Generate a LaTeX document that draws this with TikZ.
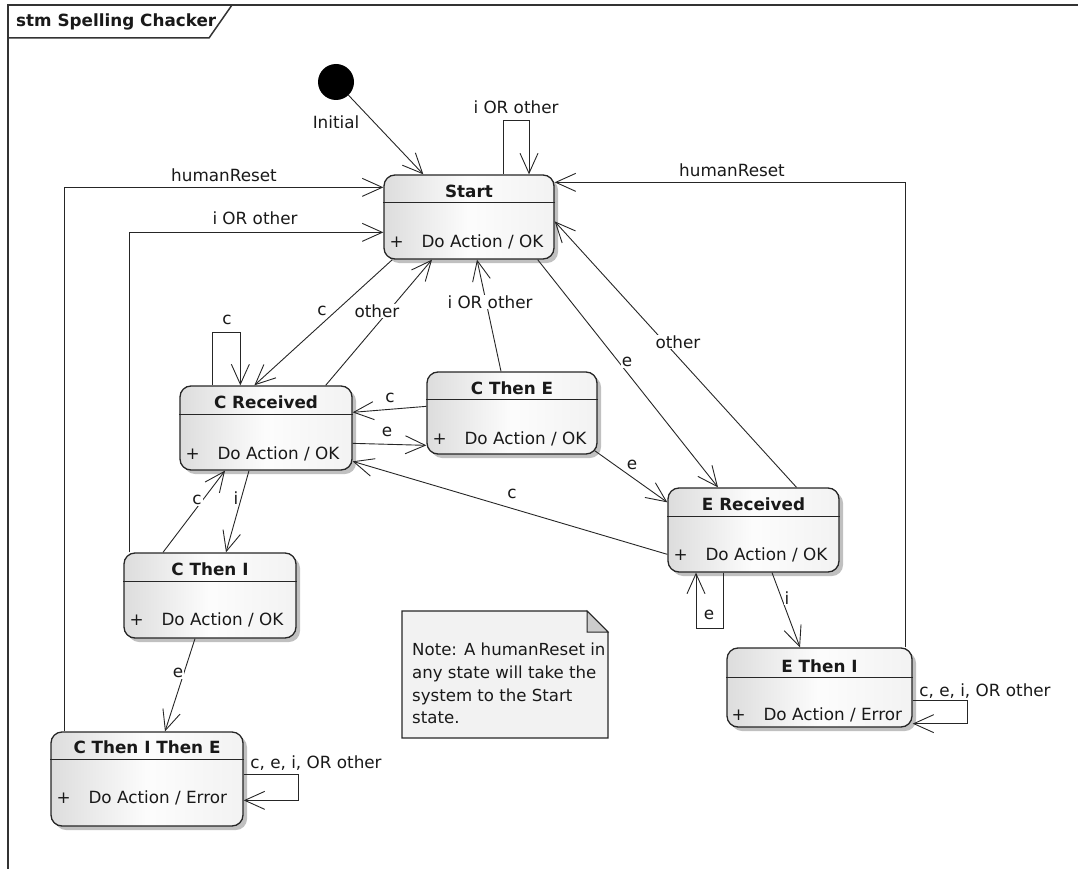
\documentclass[tikz,border=0pt]{standalone}
\usepackage{fontspec}
\setmainfont{DejaVu Sans}
\usetikzlibrary{arrows.meta,shadows}

\newcommand\lblfont{\fontsize{16.8pt}{20pt}\selectfont}
\newcommand\notefont{\fontsize{16.6pt}{22.7pt}\selectfont}
\newcommand\actiontext[1]{\makebox[32pt][l]{+}#1}

\begin{document}
\begin{tikzpicture}[x=1pt,y=1pt,
  every node/.style={font=\lblfont, text=black!90},
  state/.style={draw=black!85, line width=1.3pt, rounded corners=11pt, inner sep=0pt,
    left color=gray!27, right color=gray!10, middle color=gray!2,
    drop shadow={shadow xshift=4pt, shadow yshift=-4pt, fill=gray!55, opacity=0.9}},
  divider/.style={draw=black!85, line width=1.3pt},
  stitle/.style={font=\lblfont\bfseries, inner sep=0pt},
  sbody/.style={anchor=west, inner sep=0pt, text depth=0pt},
  lbl/.style={inner sep=1pt, fill=white, text depth=0pt},
  arr/.style={draw=black!85, line width=0.9pt, -{Straight Barb[length=20pt,width=18pt]}},
  frame/.style={draw=black!80, line width=1.5pt}
]
\useasboundingbox (0,0) rectangle (1078,-869);

% diagram frame and its name tab
\draw[frame] (8,-869) -- (8,-5) -- (1078,-5);
\draw[frame] (8,-38) -- (209,-38) -- (232,-5);
\node[font=\lblfont\bfseries, anchor=west, inner sep=0pt] (frametitle) at (16,-22) {stm Spelling Chacker};

% initial pseudo-state
\node[circle, fill=black, minimum size=36pt, inner sep=0pt] (init) at (336,-82) {};
\node[inner sep=0pt] (initlbl) at ([yshift=-40pt]init.center) {Initial};

% states
\node[state, minimum width=170pt, minimum height=84pt] (start) at (469,-217) {};
\node[state, minimum width=172pt, minimum height=84pt] (crec) at (266,-428) {};
\node[state, minimum width=170pt, minimum height=82pt] (cte) at (512,-413) {};
\node[state, minimum width=171pt, minimum height=84pt] (erec) at (753.5,-530) {};
\node[state, minimum width=172pt, minimum height=85pt] (cti) at (210,-595.5) {};
\node[state, minimum width=185pt, minimum height=79pt] (eti) at (819.5,-687.5) {};
\node[state, minimum width=192pt, minimum height=94pt] (ctite) at (147,-779) {};

% compartment dividers
\draw[divider] ([yshift=-28pt]start.north west) -- ([yshift=-28pt]start.north east);
\draw[divider] ([yshift=-29pt]crec.north west) -- ([yshift=-29pt]crec.north east);
\draw[divider] ([yshift=-28pt]cte.north west) -- ([yshift=-28pt]cte.north east);
\draw[divider] ([yshift=-29pt]erec.north west) -- ([yshift=-29pt]erec.north east);
\draw[divider] ([yshift=-29pt]cti.north west) -- ([yshift=-29pt]cti.north east);
\draw[divider] ([yshift=-30pt]eti.north west) -- ([yshift=-30pt]eti.north east);
\draw[divider] ([yshift=-28pt]ctite.north west) -- ([yshift=-28pt]ctite.north east);

% state names
\node[stitle] (startT) at ([yshift=-17pt]start.north) {Start};
\node[stitle] (crecT) at ([yshift=-17pt]crec.north) {C Received};
\node[stitle] (cteT) at ([yshift=-17pt]cte.north) {C Then E};
\node[stitle] (erecT) at ([yshift=-17pt]erec.north) {E Received};
\node[stitle] (ctiT) at ([yshift=-17pt]cti.north) {C Then I};
\node[stitle] (etiT) at ([yshift=-19pt]eti.north) {E Then I};
\node[stitle] (ctiteT) at ([yshift=-16pt]ctite.north) {C Then I Then E};

% state actions
\node[sbody] (startB) at ([xshift=6pt,yshift=19pt]start.south west) {\actiontext{Do Action / OK}};
\node[sbody] (crecB) at ([xshift=6pt,yshift=18pt]crec.south west) {\actiontext{Do Action / OK}};
\node[sbody] (cteB) at ([xshift=6pt,yshift=17pt]cte.south west) {\actiontext{Do Action / OK}};
\node[sbody] (erecB) at ([xshift=6pt,yshift=19pt]erec.south west) {\actiontext{Do Action / OK}};
\node[sbody] (ctiB) at ([xshift=6pt,yshift=20pt]cti.south west) {\actiontext{Do Action / OK}};
\node[sbody] (etiB) at ([xshift=5pt,yshift=14pt]eti.south west) {\actiontext{Do Action / Error}};
\node[sbody] (ctiteB) at ([xshift=6pt,yshift=30pt]ctite.south west) {\actiontext{Do Action / Error}};

% note
\coordinate (noteNW) at (402,-611);
\draw[draw=black!85, line width=1.3pt, fill=gray!10]
  (noteNW) -- ++(185,0) -- ++(21,-21) -- ++(0,-106) -- ++(-206,0) -- cycle;
\filldraw[fill=gray!40, draw=black!85, line width=1pt]
  ([xshift=185pt]noteNW) -- ++(0,-21) -- ++(21,0) -- cycle;
\node[anchor=north west, align=left, inner sep=0pt, font=\notefont] (note)
  at ([xshift=10pt,yshift=-32pt]noteNW)
  {Note: A humanReset in\\any state will take the\\system to the Start\\state.};

% transitions
\draw[arr] (init) -- ([xshift=40pt]start.north west);
\draw[arr] ([xshift=34pt]start.north) -- ++(0,54) -| ([xshift=60pt]start.north);
\draw[arr] ([xshift=14pt]ctite.north west) |- ([yshift=-13pt]start.north west);
\draw[arr] ([xshift=6pt]cti.north west) |- ([yshift=-58pt]start.north west);
\draw[arr] ([xshift=-7pt]eti.north east) |- ([yshift=-8pt]start.north east);
\draw[arr] ([xshift=9pt]start.south west) -- ([xshift=75pt]crec.north west);
\draw[arr] ([xshift=-27pt]crec.north east) -- ([xshift=-37pt]start.south);
\draw[arr] ([xshift=33pt]crec.north west) -- ++(0,53) -| ([xshift=61pt]crec.north west);
\draw[arr] ([xshift=-11pt]cte.north) -- ([xshift=8pt]start.south);
\draw[arr] ([xshift=-17pt]start.south east) -- ([xshift=-35.5pt]erec.north);
\draw[arr] ([xshift=43pt]erec.north) -- ([yshift=-47pt]start.north east);
\draw[arr] ([yshift=-35pt]cte.north west) -- ([yshift=-27pt]crec.north east);
\draw[arr] ([yshift=-58pt]crec.north east) -- ([yshift=-74pt]cte.north west);
\draw[arr] ([xshift=-3pt,yshift=4pt]cte.south east) -- ([yshift=-15pt]erec.north west);
\draw[arr] ([yshift=-67pt]erec.north west) -- ([yshift=-76pt]crec.north east);
\draw[arr] ([xshift=-30.5pt]erec.south) -- ++(0,-56) -| ([xshift=-57.5pt]erec.south);
\draw[arr] ([xshift=18.5pt]erec.south) -- ([xshift=-19.5pt]eti.north);
\draw[arr] ([yshift=-53pt]eti.north east) -- ++(55,0) |- ([yshift=4pt]eti.south east);
\draw[arr] ([xshift=-17pt]crec.south) -- ([xshift=16pt]cti.north);
\draw[arr] ([xshift=-47pt]cti.north) -- ([xshift=-41pt]crec.south);
\draw[arr] ([xshift=-15pt]cti.south) -- ([xshift=18pt]ctite.north);
\draw[arr] ([yshift=-43pt]ctite.north east) -- ++(55,0) |- ([yshift=-69pt]ctite.north east);

% transition labels
\node[lbl] (l1) at (516,-107) {i OR other};
\node[lbl] (l2) at (224,-175) {humanReset};
\node[lbl] (l3) at (255,-218) {i OR other};
\node[lbl] (l4) at (732,-170) {humanReset};
\node[lbl] (l5) at (322,-311) {c};
\node[lbl] (l6) at (377,-311) {other};
\node[lbl] (l7) at (227,-320) {c};
\node[lbl] (l8) at (490,-302) {i OR other};
\node[lbl] (l9) at (627,-362) {e};
\node[lbl] (l10) at (678,-342) {other};
\node[lbl] (l11) at (390,-398) {c};
\node[lbl] (l12) at (387,-432) {e};
\node[lbl] (l13) at (632,-465) {e};
\node[lbl] (l14) at (512,-494) {c};
\node[lbl] (l15) at (709,-615) {e};
\node[lbl] (l16) at (787,-598) {i};
\node[lbl] (l17) at (985,-690) {c, e, i, OR other};
\node[lbl] (l18) at (236,-498) {i};
\node[lbl] (l19) at (197,-500) {c};
\node[lbl] (l20) at (178,-673) {e};
\node[lbl] (l21) at (316,-762) {c, e, i, OR other};
\end{tikzpicture}
\end{document}
